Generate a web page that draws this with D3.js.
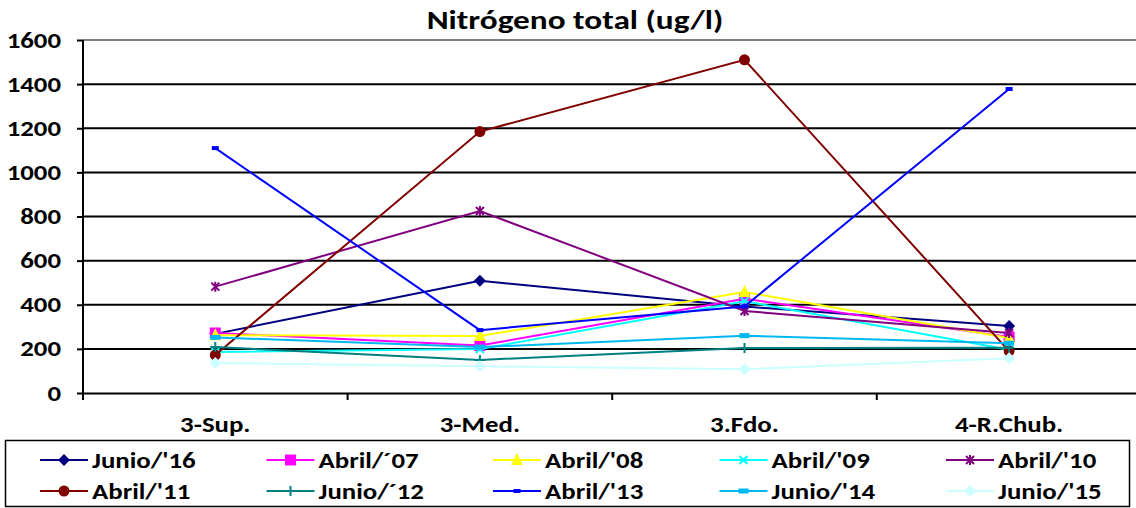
<!DOCTYPE html>
<html lang="es">
<head>
<meta charset="utf-8">
<script src="https://d3js.org/d3.v7.min.js"></script>
<style>
    body { margin: 0; background: #fff; }
    svg { display: block; font-family: Carlito, Calibri, Lato, sans-serif; font-weight: bold; }
    .grid line { stroke-width: 2; }
    .axis path, .axis line { stroke: #000; stroke-width: 2; }
    .axis text { font-size: 22px; fill: #000; font-weight: bold; font-family: Carlito, Calibri, Lato, sans-serif; }
    .legend text { font-size: 22px; }
</style>
</head>
<body>
<div id="canvas"></div>
<script>
    var categories = ["3-Sup.", "3-Med.", "3.Fdo.", "4-R.Chub."];
    var yTicks = [0, 200, 400, 600, 800, 1000, 1200, 1400, 1600];

    var junio16 = [268, 509, 392, 304];
    var abril07 = [272, 215, 427, 254];
    var abril08 = [262, 258, 458, 249];
    var abril09 = [186, 199, 416, 196];
    var abril10 = [482, 825, 372, 272];
    var abril11 = [172, 1185, 1510, 190];
    var junio12 = [208, 150, 204, 205];
    var abril13 = [1110, 285, 392, 1378];
    var junio14 = [252, 208, 260, 226];
    var junio15 = [136, 121, 108, 157];

    var series = [
        { name: "Junio/'16", values: junio16, color: "#000080", marker: "diamond" },
        { name: "Abril/´07", values: abril07, color: "#ff00ff", marker: "square" },
        { name: "Abril/'08", values: abril08, color: "#ffff00", marker: "triangle" },
        { name: "Abril/'09", values: abril09, color: "#00ffff", marker: "x" },
        { name: "Abril/'10", values: abril10, color: "#800080", marker: "star" },
        { name: "Abril/'11", values: abril11, color: "#800000", marker: "circle" },
        { name: "Junio/´12", values: junio12, color: "#008080", marker: "plus" },
        { name: "Abril/'13", values: abril13, color: "#0000ff", marker: "dash" },
        { name: "Junio/'14", values: junio14, color: "#00b8f0", marker: "bar" },
        { name: "Junio/'15", values: junio15, color: "#ccffff", marker: "diamond" }
    ];

    var W = 1136, H = 508;
    var svg = d3.select("#canvas").append("svg")
        .attr("width", W)
        .attr("height", H);

    var plotLeft = 83, plotTop = 40, plotBottom = 393, band = 264.6;
    var stretch = 1.22; // the source image is wider than its text

    var x = d3.scaleBand()
        .domain(categories)
        .range([plotLeft, plotLeft + band * categories.length])
        .paddingInner(0).paddingOuter(0);
    var y = d3.scaleLinear().domain([0, 1600]).range([plotBottom, plotTop]);

    // title
    svg.append("text")
        .attr("transform", "translate(575,29) scale(1.28,1)")
        .attr("text-anchor", "middle")
        .style("font-size", "26px")
        .text("Nitrógeno total (ug/l)");

    // gridlines
    svg.append("g")
        .attr("class", "grid")
        .selectAll("line")
        .data(yTicks.filter(function (d) { return d > 0; }))
        .enter().append("line")
        .attr("x1", plotLeft).attr("x2", x.range()[1])
        .attr("y1", function (d) { return y(d); })
        .attr("y2", function (d) { return y(d); })
        .style("stroke", function (d) { return d === 1600 ? "#808080" : "#000"; });

    // y axis
    var yAxis = svg.append("g")
        .attr("class", "axis")
        .attr("transform", "translate(" + plotLeft + ",0)")
        .call(d3.axisLeft(y).tickValues(yTicks).tickFormat(d3.format("d"))
            .tickSize(6).tickSizeOuter(0).tickPadding(5));
    yAxis.select(".domain").attr("d", "M0," + y(1600) + "V" + (plotBottom + 7));
    yAxis.selectAll(".tick text")
        .attr("x", 0)
        .attr("transform", "translate(-22,0) scale(" + stretch + ",1)");

    // x axis
    var xAxis = svg.append("g")
        .attr("class", "axis")
        .attr("transform", "translate(0," + plotBottom + ")")
        .call(d3.axisBottom(x).tickSize(0).tickSizeOuter(0).tickPadding(0));
    xAxis.selectAll(".tick line").remove();
    xAxis.selectAll(".tick text")
        .attr("y", null).attr("dy", null)
        .attr("transform", "translate(0,39) scale(" + stretch + ",1)");
    xAxis.selectAll(".bound")
        .data(categories.slice(1))
        .enter().append("line")
        .attr("class", "bound")
        .attr("x1", function (d) { return x(d); })
        .attr("x2", function (d) { return x(d); })
        .attr("y1", 0).attr("y2", 7);

    function cx(i) { return x(categories[i]) + x.bandwidth() / 2; }

    function drawMarker(g, type, color, px, py) {
        var t = "translate(" + px + "," + py + ")";
        if (type === "diamond") {
            g.append("path").attr("d", "M0,-6L6,0L0,6L-6,0Z")
                .attr("transform", t).attr("fill", color);
        } else if (type === "square") {
            g.append("rect").attr("x", px - 5.5).attr("y", py - 5.5)
                .attr("width", 11).attr("height", 11).attr("fill", color);
        } else if (type === "triangle") {
            g.append("path").attr("d", "M0,-7L6,5H-6Z")
                .attr("transform", t).attr("fill", color);
        } else if (type === "circle") {
            g.append("circle").attr("cx", px).attr("cy", py).attr("r", 5.5).attr("fill", color);
        } else if (type === "x") {
            g.append("path").attr("d", "M-4,-4L4,4M-4,4L4,-4")
                .attr("transform", t)
                .attr("stroke", color).attr("stroke-width", 2).attr("fill", "none");
        } else if (type === "star") {
            g.append("path").attr("d", "M-4,-4L4,4M-4,4L4,-4M0,-5V5")
                .attr("transform", t)
                .attr("stroke", color).attr("stroke-width", 2).attr("fill", "none");
        } else if (type === "plus") {
            g.append("path").attr("d", "M-5,0H5M0,-5V5")
                .attr("transform", t)
                .attr("stroke", color).attr("stroke-width", 2).attr("fill", "none");
        } else if (type === "dash") {
            g.append("rect").attr("x", px - 3.5).attr("y", py - 2)
                .attr("width", 7).attr("height", 4).attr("fill", color);
        } else if (type === "bar") {
            g.append("rect").attr("x", px - 5).attr("y", py - 2.5)
                .attr("width", 10).attr("height", 5).attr("fill", color);
        }
    }

    var line = d3.line()
        .x(function (d, i) { return cx(i); })
        .y(function (d) { return y(d); });

    series.forEach(function (s) {
        var g = svg.append("g");
        g.append("path")
            .attr("d", line(s.values))
            .attr("fill", "none")
            .attr("stroke", s.color)
            .attr("stroke-width", 2);
        s.values.forEach(function (v, i) {
            drawMarker(g, s.marker, s.color, cx(i), y(v));
        });
    });

    // legend
    var legend = svg.append("g").attr("class", "legend");
    legend.append("rect")
        .attr("x", 5.5).attr("y", 440.5)
        .attr("width", 1124).attr("height", 66)
        .attr("fill", "none").attr("stroke", "#000").attr("stroke-width", 1.5);

    series.forEach(function (s, i) {
        var col = i % 5, row = Math.floor(i / 5);
        var lx = 40 + col * 226.5, ly = 460 + row * 31;
        var g = legend.append("g");
        g.append("line")
            .attr("x1", lx).attr("x2", lx + 48)
            .attr("y1", ly).attr("y2", ly)
            .attr("stroke", s.color).attr("stroke-width", 2);
        drawMarker(g, s.marker, s.color, lx + 24, ly);
        g.append("text")
            .attr("transform", "translate(" + (lx + 52) + "," + (ly + 8) + ") scale(" + stretch + ",1)")
            .text(s.name);
    });
</script>
</body>
</html>
